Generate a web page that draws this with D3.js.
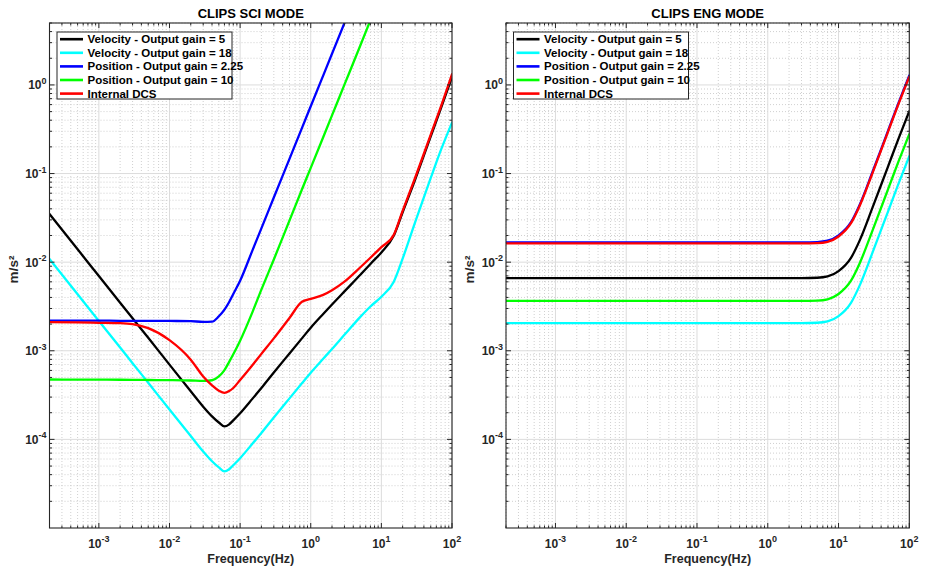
<!DOCTYPE html>
<html><head><meta charset="utf-8">
<script src="https://cdn.jsdelivr.net/npm/d3@7"></script>
<style>
body{margin:0;background:#fff}
svg{display:block}
text{font-family:"Liberation Sans",Arial,Helvetica,sans-serif;fill:#262626}
</style>
</head><body>
<svg id="chart" width="926" height="572"></svg>
<script>
// ---------------- data ----------------
const seriesNames = [
  "Velocity - Output gain = 5",
  "Velocity - Output gain = 18",
  "Position - Output gain = 2.25",
  "Position - Output gain = 10",
  "Internal DCS"
];
const seriesColors = ["#000000", "#00ffff", "#0000ff", "#00ff00", "#ff0000"];

const panelTitles = ["CLIPS SCI MODE", "CLIPS ENG MODE"];
const xLabel = "Frequency(Hz)";
const yLabel = "m/s²";
const xTickExps = [-3, -2, -1, 0, 1, 2];
const yTickExps = [-4, -3, -2, -1, 0];
const xDomain = [2e-4, 100];
const yDomain = [1e-5, 5];

// SCI mode frequency grid (Hz)
const freqSci = [2e-4, 5e-4, 1e-3, 2e-3, 3e-3, 5e-3, 0.01, 0.02, 0.03, 0.04, 0.05, 0.06, 0.07, 0.08, 0.1,
  0.15, 0.2, 0.3, 0.5, 0.75, 1, 1.5, 2, 3, 5, 7, 10, 15, 20, 30, 50, 70, 100];

const sciVel5 = [0.0349, 0.01396, 6.98e-3, 3.49e-3, 2.33e-3, 1.40e-3, 6.98e-4, 3.49e-4, 2.34e-4, 1.82e-4, 1.55e-4, 1.40e-4, 1.479e-4, 1.641e-4, 1.972e-4,
  2.884e-4, 3.802e-4, 5.689e-4, 9.333e-4, 1.380e-3, 1.820e-3, 2.600e-3, 3.327e-3, 4.677e-3, 7.161e-3, 9.550e-3, 0.01288, 0.01995, 0.0366, 0.0851, 0.263, 0.55, 1.23];

const sciVel18 = [0.01086, 4.35e-3, 2.17e-3, 1.09e-3, 7.24e-4, 4.35e-4, 2.17e-4, 1.09e-4, 7.29e-5, 5.66e-5, 4.82e-5, 4.35e-5, 4.60e-5, 5.11e-5, 6.14e-5,
  8.97e-5, 1.183e-4, 1.770e-4, 2.904e-4, 4.295e-4, 5.662e-4, 8.128e-4, 1.047e-3, 1.514e-3, 2.399e-3, 3.162e-3, 4.074e-3, 6.026e-3, 0.01096, 0.0282, 0.0891, 0.186, 0.376];

const sciPos225 = [2.19e-3, 2.19e-3, 2.19e-3, 2.18e-3, 2.18e-3, 2.18e-3, 2.17e-3, 2.16e-3, 2.12e-3, 2.13e-3, 2.45e-3, 2.91e-3, 3.55e-3, 4.37e-3, 6.17e-3,
  0.01368, 0.0241, 0.0536, 0.1466, 0.326, 0.574, 1.276, 2.25, 5.0, 13.8, null, null, null, null, null, null, null, null];

const sciPos10 = [4.74e-4, 4.73e-4, 4.72e-4, 4.71e-4, 4.70e-4, 4.68e-4, 4.66e-4, 4.62e-4, 4.57e-4, 4.65e-4, 5.13e-4, 6.05e-4, 7.50e-4, 9.12e-4, 1.30e-3,
  2.75e-3, 4.90e-3, 0.01072, 0.0295, 0.0661, 0.1159, 0.257, 0.454, 1.007, 2.75, 5.37, 11.0, null, null, null, null, null, null];

const sciDcs = [2.10e-3, 2.09e-3, 2.07e-3, 2.05e-3, 2.00e-3, 1.80e-3, 1.32e-3, 7.94e-4, 5.13e-4, 4.07e-4, 3.55e-4, 3.35e-4, 3.51e-4, 3.80e-4, 4.677e-4,
  6.918e-4, 9.226e-4, 1.380e-3, 2.344e-3, 3.57e-3, 3.85e-3, 4.27e-3, 4.82e-3, 6.03e-3, 8.71e-3, 0.01122, 0.01479, 0.0204, 0.038, 0.0891, 0.275, 0.575, 1.32];

// ENG mode frequency grid (Hz)
const freqEng = [2e-4, 1e-3, 1e-2, 0.1, 1, 3, 5, 7, 10, 15, 20, 30, 50, 70, 100];

const engVel5   = [6.62e-3, 6.62e-3, 6.62e-3, 6.62e-3, 6.62e-3, 6.62e-3, 6.67e-3, 6.90e-3, 7.93e-3, 0.01119, 0.01774, 0.04064, 0.1199, 0.2449, 0.5047];
const engVel18  = [2.056e-3, 2.056e-3, 2.056e-3, 2.056e-3, 2.056e-3, 2.056e-3, 2.071e-3, 2.143e-3, 2.461e-3, 3.476e-3, 5.509e-3, 0.01262, 0.03724, 0.07605, 0.1567];
const engPos225 = [0.01675, 0.01675, 0.01675, 0.01675, 0.01675, 0.01675, 0.01686, 0.01745, 0.02005, 0.0283, 0.0449, 0.1028, 0.3034, 0.6194, 1.28];
const engPos10  = [3.656e-3, 3.656e-3, 3.656e-3, 3.656e-3, 3.656e-3, 3.656e-3, 3.683e-3, 3.81e-3, 4.376e-3, 6.18e-3, 9.80e-3, 0.02244, 0.06622, 0.1352, 0.2787];
const engDcs    = [0.01629, 0.01629, 0.01629, 0.01629, 0.01629, 0.01629, 0.01641, 0.01698, 0.0195, 0.02754, 0.04365, 0.1, 0.2951, 0.6026, 1.242];

// ---------------- drawing ----------------
const svg = d3.select("#chart");

const panels = [
  {left: 49.5, right: 452, top: 23, bottom: 528, title: panelTitles[0], freqs: freqSci,
   series: [sciVel5, sciVel18, sciPos225, sciPos10, sciDcs]},
  {left: 506, right: 909.3, top: 23, bottom: 528, title: panelTitles[1], freqs: freqEng,
   series: [engVel5, engVel18, engPos225, engPos10, engDcs]}
];

function minorValues(domain) {
  const out = [];
  const lo = Math.floor(Math.log10(domain[0])), hi = Math.ceil(Math.log10(domain[1]));
  for (let e = lo; e <= hi; e++) {
    for (let m = 2; m <= 9; m++) {
      const v = m * Math.pow(10, e);
      if (v >= domain[0] * 0.9999 && v <= domain[1] * 1.0001) out.push(v);
    }
  }
  return out;
}

panels.forEach((p, pi) => {
  const x = d3.scaleLog().domain(xDomain).range([p.left, p.right]);
  const y = d3.scaleLog().domain(yDomain).range([p.bottom, p.top]);
  const g = svg.append("g");

  // minor grid
  const xMinor = minorValues(xDomain);
  const yMinor = minorValues(yDomain);
  g.selectAll(".xmg").data(xMinor).enter().append("line")
    .attr("x1", d => x(d)).attr("x2", d => x(d)).attr("y1", p.top).attr("y2", p.bottom)
    .attr("stroke", "#c4c4c4").attr("stroke-width", 0.8).attr("stroke-dasharray", "1,2");
  g.selectAll(".ymg").data(yMinor).enter().append("line")
    .attr("y1", d => y(d)).attr("y2", d => y(d)).attr("x1", p.left).attr("x2", p.right)
    .attr("stroke", "#c4c4c4").attr("stroke-width", 0.8).attr("stroke-dasharray", "1,2");

  // major grid
  g.selectAll(".xMg").data(xTickExps).enter().append("line")
    .attr("x1", d => x(Math.pow(10, d))).attr("x2", d => x(Math.pow(10, d)))
    .attr("y1", p.top).attr("y2", p.bottom)
    .attr("stroke", "#dcdcdc").attr("stroke-width", 1);
  g.selectAll(".yMg").data(yTickExps).enter().append("line")
    .attr("y1", d => y(Math.pow(10, d))).attr("y2", d => y(Math.pow(10, d)))
    .attr("x1", p.left).attr("x2", p.right)
    .attr("stroke", "#dcdcdc").attr("stroke-width", 1);

  // clip
  const clipId = "clip" + pi;
  svg.append("clipPath").attr("id", clipId).append("rect")
    .attr("x", p.left).attr("y", p.top).attr("width", p.right - p.left).attr("height", p.bottom - p.top);

  // curves
  const line = d3.line()
    .defined(d => d.v != null)
    .x(d => x(d.f)).y(d => y(d.v))
    .curve(d3.curveMonotoneX);
  const cg = g.append("g").attr("clip-path", `url(#${clipId})`);
  p.series.forEach((vals, si) => {
    const pts = p.freqs.map((f, i) => ({f: f, v: vals[i]}));
    cg.append("path").datum(pts)
      .attr("d", line)
      .attr("fill", "none")
      .attr("stroke", seriesColors[si])
      .attr("stroke-width", 2.3)
      .attr("stroke-linejoin", "round")
      .attr("stroke-linecap", "round");
  });

  // box
  g.append("rect").attr("x", p.left).attr("y", p.top)
    .attr("width", p.right - p.left).attr("height", p.bottom - p.top)
    .attr("fill", "none").attr("stroke", "#262626").attr("stroke-width", 1.1);

  // ticks (inward, all four sides)
  const tk = g.append("g").attr("stroke", "#262626").attr("stroke-width", 1);
  const majLen = 5, minLen = 2.5;
  xTickExps.forEach(e => {
    const xx = x(Math.pow(10, e));
    tk.append("line").attr("x1", xx).attr("x2", xx).attr("y1", p.bottom).attr("y2", p.bottom - majLen);
    tk.append("line").attr("x1", xx).attr("x2", xx).attr("y1", p.top).attr("y2", p.top + majLen);
  });
  xMinor.forEach(v => {
    const xx = x(v);
    tk.append("line").attr("x1", xx).attr("x2", xx).attr("y1", p.bottom).attr("y2", p.bottom - minLen);
    tk.append("line").attr("x1", xx).attr("x2", xx).attr("y1", p.top).attr("y2", p.top + minLen);
  });
  yTickExps.forEach(e => {
    const yy = y(Math.pow(10, e));
    tk.append("line").attr("y1", yy).attr("y2", yy).attr("x1", p.left).attr("x2", p.left + majLen);
    tk.append("line").attr("y1", yy).attr("y2", yy).attr("x1", p.right).attr("x2", p.right - majLen);
  });
  yMinor.forEach(v => {
    const yy = y(v);
    tk.append("line").attr("y1", yy).attr("y2", yy).attr("x1", p.left).attr("x2", p.left + minLen);
    tk.append("line").attr("y1", yy).attr("y2", yy).attr("x1", p.right).attr("x2", p.right - minLen);
  });

  // tick labels
  xTickExps.forEach(e => {
    const t = g.append("text").attr("x", x(Math.pow(10, e))).attr("y", p.bottom + 19.5)
      .attr("text-anchor", "middle").attr("font-size", 12).attr("font-weight", "bold");
    t.append("tspan").text("10");
    t.append("tspan").attr("dy", -5.5).attr("font-size", 9).text(String(e));
  });
  yTickExps.forEach(e => {
    const t = g.append("text").attr("x", p.left - 3).attr("y", y(Math.pow(10, e)) + 4.5)
      .attr("text-anchor", "end").attr("font-size", 12).attr("font-weight", "bold");
    t.append("tspan").text("10");
    t.append("tspan").attr("dy", -5.5).attr("font-size", 9).text(String(e));
  });

  // title and axis labels
  g.append("text").attr("x", (p.left + p.right) / 2).attr("y", 17.5)
    .attr("text-anchor", "middle").attr("font-size", 13).attr("font-weight", "bold")
    .style("fill", "#000").text(p.title);
  g.append("text").attr("x", (p.left + p.right) / 2).attr("y", 563)
    .attr("text-anchor", "middle").attr("font-size", 12.5).attr("font-weight", "bold").text(xLabel);
  g.append("text").attr("transform", `translate(${p.left - 32},${(p.top + p.bottom) / 2 - 6}) rotate(-90)`)
    .attr("text-anchor", "middle").attr("font-size", 13.5).attr("font-weight", "bold").text(yLabel);

  // legend
  const lx = p.left + 7.5, ly = 32, lw = 175, lh = 67;
  const lg = g.append("g");
  lg.append("rect").attr("x", lx).attr("y", ly).attr("width", lw).attr("height", lh)
    .attr("fill", "#fff").attr("stroke", "#262626").attr("stroke-width", 1);
  seriesNames.forEach((name, i) => {
    const yy = ly + 7.2 + i * 13.6;
    lg.append("line").attr("x1", lx + 3).attr("x2", lx + 26).attr("y1", yy).attr("y2", yy)
      .attr("stroke", seriesColors[i]).attr("stroke-width", 2.6);
    lg.append("text").attr("x", lx + 30.5).attr("y", yy + 4)
      .attr("font-size", 11.5).attr("font-weight", "bold").style("fill", "#000").text(name);
  });
});
</script>
</body></html>
